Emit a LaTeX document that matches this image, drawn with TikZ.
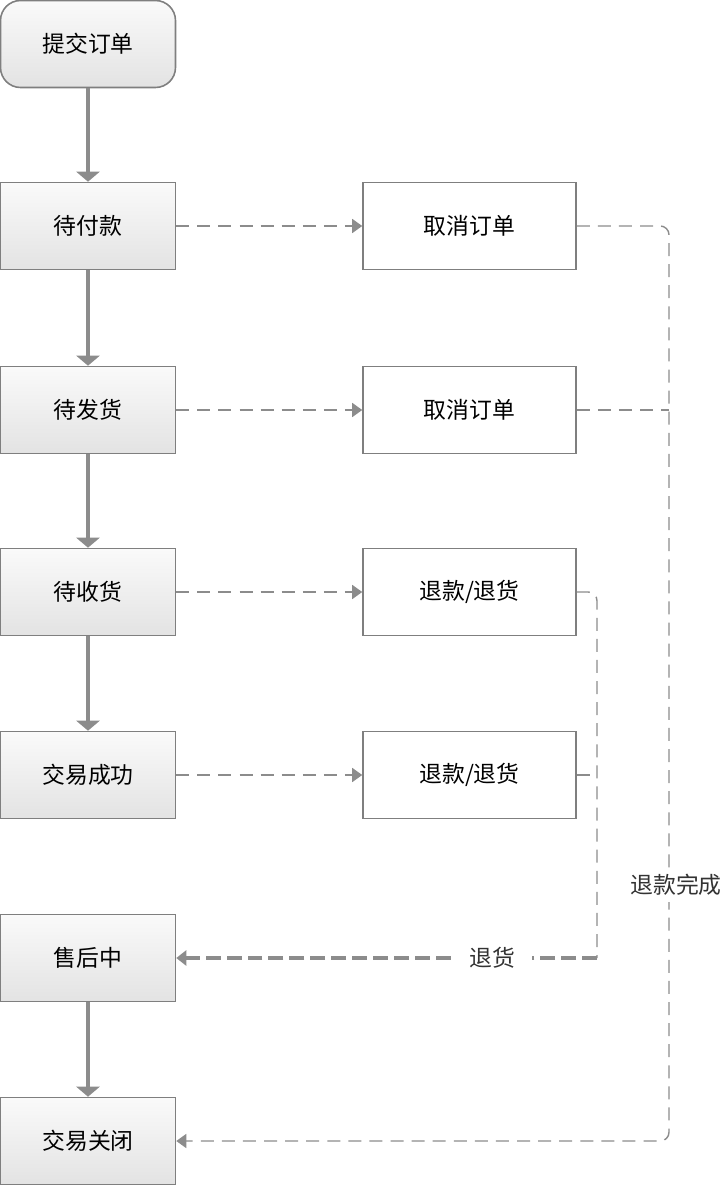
\documentclass[tikz,border=0pt]{standalone}
\usepackage{fontspec}
\setmainfont{Noto Sans CJK SC}
\usetikzlibrary{arrows.meta}
\definecolor{linegray}{HTML}{8C8C8C}
\definecolor{boxgray}{HTML}{7F7F7F}
\begin{document}
\begin{tikzpicture}[x=0.02cm,y=-0.02cm,
  state/.style={draw=boxgray,line width=0.9pt,top color=white!96!gray,bottom color=gray!22,
    minimum width=3.5cm,minimum height=1.74cm,inner sep=0pt,font=\fontsize{13}{15}\selectfont},
  start/.style={state,rounded corners=0.4cm},
  action/.style={draw=boxgray,line width=0.9pt,fill=white,
    minimum width=4.26cm,minimum height=1.74cm,inner sep=0pt,font=\fontsize{13}{15}\selectfont},
  flow/.style={draw=linegray,line width=2.2pt,-{Triangle[width=0.46cm,length=0.2cm]}},
  dashflow/.style={draw=linegray,line width=0.8pt,dash pattern=on 7.4pt off 4.6pt,
    -{Triangle[width=0.28cm,length=0.2cm]}},
  thickdash/.style={draw=linegray,line width=2pt,dash pattern=on 8.5pt off 3.4pt,
    -{Triangle[width=0.3cm,length=0.2cm]}},
  lbl/.style={fill=white,font=\fontsize{13}{15}\selectfont,text=black!80}]
\useasboundingbox (0,0) rectangle (721,1186);

% main states
\node[start] (submit) at (88,44) {提交订单};
\node[state] (pay) at (88,226) {待付款};
\node[state] (ship) at (88,410) {待发货};
\node[state] (recv) at (88,592) {待收货};
\node[state] (done) at (88,775) {交易成功};
\node[state] (after) at (88,958) {售后中};
\node[state] (close) at (88,1141) {交易关闭};

\draw[flow] (submit) -- (pay);
\draw[flow] (pay) -- (ship);
\draw[flow] (ship) -- (recv);
\draw[flow] (recv) -- (done);
\draw[flow] (after) -- (close);

% actions
\node[action] (cancela) at (469.5,226) {取消订单};
\node[action] (cancelb) at (469.5,410) {取消订单};
\node[action] (refunda) at (469.5,592) {退款/退货};
\node[action] (refundb) at (469.5,775) {退款/退货};

\draw[dashflow] (pay) -- (cancela);
\draw[dashflow] (ship) -- (cancelb);
\draw[dashflow] (recv) -- (refunda);
\draw[dashflow] (done) -- (refundb);

% refund finished
\coordinate (rjoin) at (669,410);
\draw[dashflow,rounded corners=5] (cancela.east) -| (669,1141) -- (close.east);
\draw[dashflow,-] (cancelb.east) -- (rjoin);
\node[lbl,inner xsep=1pt] (finish) at (676,885) {退款完成};

% return goods
\coordinate (gjoin) at (597,775);
\coordinate (gcorner) at (597,958);
\draw[dashflow,-,rounded corners=5] (refunda.east) -| (gcorner);
\draw[dashflow,-] (refundb.east) -- (gjoin);
\draw[thickdash] (gcorner) -- (after.east);
\node[lbl,inner xsep=0.35cm] (back) at (492,958) {退货};
\end{tikzpicture}
\end{document}
